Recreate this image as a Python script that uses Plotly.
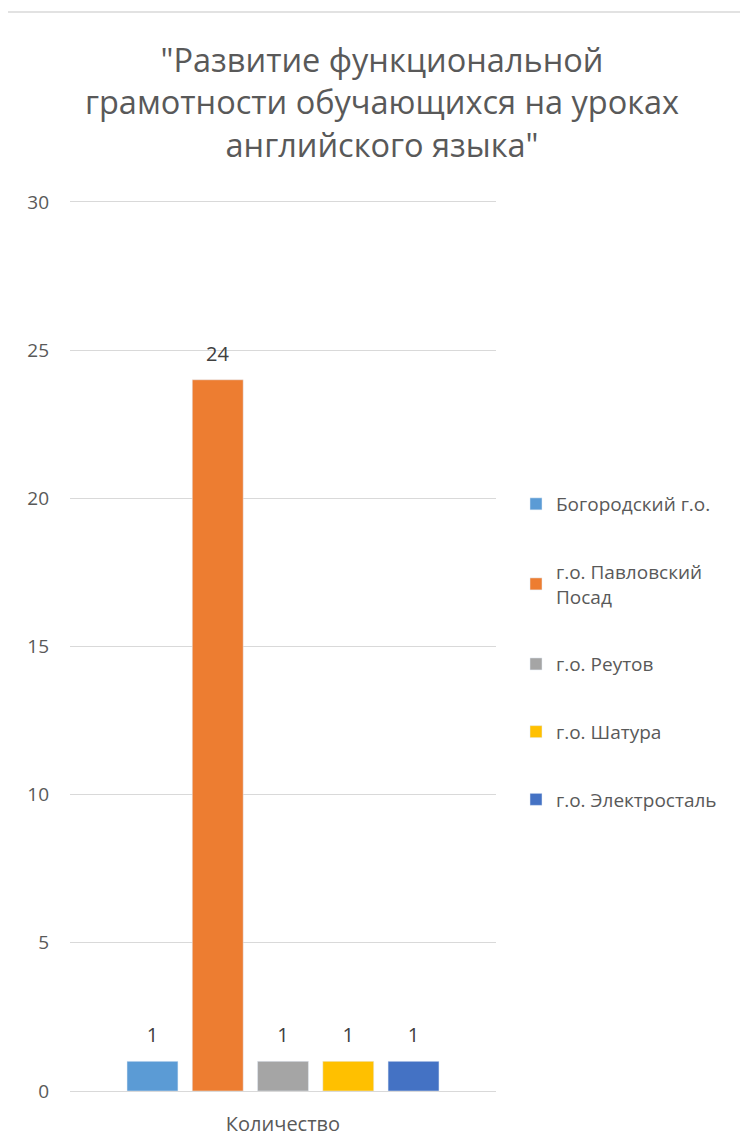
import plotly.graph_objects as go

categories = ["Количество"]
series_names = ["Богородский г.о.", "г.о. Павловский<br>Посад", "г.о. Реутов", "г.о. Шатура", "г.о. Электросталь"]
series_values = [1, 24, 1, 1, 1]
series_colors = ["#5B9BD5", "#ED7D31", "#A5A5A5", "#FFC000", "#4472C4"]
y_ticks = [0, 5, 10, 15, 20, 25, 30]
title_text = "\"Развитие функциональной<br>грамотности обучающихся на уроках<br>английского языка\""

FONT = "'Open Sans', Roboto, sans-serif"
OFF = 8  # page body margin
W, H = 748 - OFF, 1144 - OFF
# target pixel positions in the 748x1144 window
PL, PR, PT, PB = 70, 496, 199, 1091
L, T = PL - OFF, PT - OFF
R = W - (PR - OFF)
B = H - (PB - OFF)
pw, ph = PR - PL, PB - PT

fig = go.Figure()
for i, (name, val, col) in enumerate(zip(series_names, series_values, series_colors)):
    fig.add_trace(go.Bar(
        x=categories, y=[val], name=name, marker_color=col,
        text=[str(val)],
        texttemplate="<span style='font-size:20px'>%{y}</span><br>\u00a0",
        textposition="outside", cliponaxis=False,
        textfont=dict(size=10, color="#404040", family=FONT),
        legendgroup=f"g{i}",
    ))

def px_x(p):
    return (p - PL) / pw

def px_y(p):
    return 1 - (p - PT) / ph

fig.update_layout(
    width=W, height=H,
    margin=dict(l=L, r=R, t=T, b=B, autoexpand=False),
    paper_bgcolor="white", plot_bgcolor="white",
    font=dict(family=FONT, color="#595959"),
    barmode="group", bargap=0.234, bargroupgap=0.22,
    title=dict(text=title_text, x=(382 - OFF) / W, xanchor="center", xref="container",
               y=1 - (72 - OFF) / H, yanchor="top", yref="container",
               font=dict(size=32.5, color="#595959", family=FONT)),
    legend=dict(x=px_x(516), xanchor="left", y=px_y(485), yanchor="top",
                font=dict(size=19, color="#595959", family=FONT),
                tracegroupgap=40, traceorder="grouped", bgcolor="rgba(0,0,0,0)"),
    showlegend=True,
    shapes=[dict(type="path", xref="paper", yref="paper",
                 path=f"M {px_x(5)},{px_y(1170)} L {px_x(5)},{px_y(12)} L {px_x(770)},{px_y(12)}",
                 line=dict(color="#D9D9D9", width=1.5))],
)
fig.update_yaxes(range=[0, 30.1], tickvals=y_ticks, showgrid=True, gridcolor="#D9D9D9",
                 gridwidth=1, zeroline=False, showline=False, ticks="", automargin=False,
                 tickfont=dict(size=19, color="#595959", family=FONT), ticklabelstandoff=20)
fig.update_xaxes(showline=True, linecolor="#D9D9D9", linewidth=1, ticks="", automargin=False,
                 tickfont=dict(size=20, color="#595959", family=FONT), ticklabelstandoff=15)

fig.write_html("out.html")
